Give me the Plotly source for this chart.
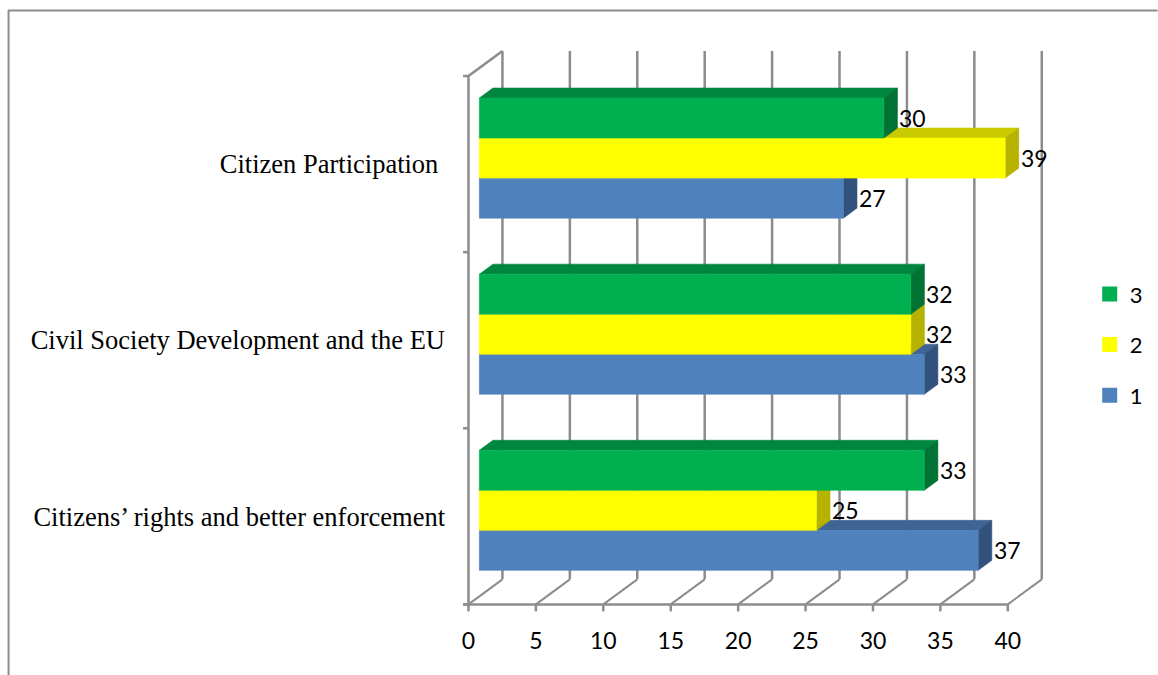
import plotly.graph_objects as go

# ---- data ----------------------------------------------------------------
categories = [
    "Citizens\u2019 rights and better enforcement",
    "Civil Society Development and the EU",
    "Citizen Participation\u00a0",
]
series_names = ["1", "2", "3"]
values_1 = [37, 33, 27]
values_2 = [25, 32, 39]
values_3 = [33, 32, 30]
x_ticks = [0, 5, 10, 15, 20, 25, 30, 35, 40]

# ---- styling -------------------------------------------------------------
series_values = [values_1, values_2, values_3]
front_colors = ["#4F81BD", "#FFFF00", "#00B050"]
top_colors = ["#3E6595", "#CACA00", "#00873F"]
side_colors = ["#30527C", "#B5B200", "#007234"]
GRID = "#8C8C8C"

W, H = 1158, 675
PX_PER_UNIT = 13.5      # horizontal pixels per value unit
PX_PER_CAT = 176        # vertical pixels per category band
ORIGIN_X = 468          # pixel of value 0 on the front plane
ORIGIN_Y = 604          # pixel of the floor front edge
X_RANGE = [-1.0, 43.5]
Y_RANGE = [-0.1, 3.25]

# oblique depth of the box (in axis units) and depth span of the bars
DX = 34 / PX_PER_UNIT
DY = 25 / PX_PER_CAT
F0, F1 = 0.32, 0.72
BAR_W = 40 / PX_PER_CAT
GROUP_SHIFT = -2 / PX_PER_CAT   # bar groups sit slightly below band centres

left = ORIGIN_X + X_RANGE[0] * PX_PER_UNIT
right = ORIGIN_X + X_RANGE[1] * PX_PER_UNIT
bottom = ORIGIN_Y - Y_RANGE[0] * PX_PER_CAT
top = ORIGIN_Y - Y_RANGE[1] * PX_PER_CAT


def px_x(p):
    return (p - left) / (right - left)


def px_y(p):
    return (bottom - p) / (bottom - top)


def proj(v, c, f):
    return v + f * DX, c + f * DY


def add_poly(xs, ys, pts):
    for p in pts + [pts[0]]:
        xs.append(p[0])
        ys.append(p[1])
    xs.append(None)
    ys.append(None)


def add_seg(xs, ys, a, b):
    xs.extend([a[0], b[0], None])
    ys.extend([a[1], b[1], None])


fig = go.Figure()

# ---- walls, floor and grid ------------------------------------------------
n_cat = len(categories)
gx, gy = [], []
for t in x_ticks:
    add_seg(gx, gy, proj(t, 0, 1), proj(t, n_cat, 1))       # back wall grid
fig.add_trace(go.Scatter(x=gx, y=gy, mode="lines", hoverinfo="skip",
                         line=dict(color=GRID, width=2.5), showlegend=False))

fx, fy = [], []
for t in x_ticks:
    add_seg(fx, fy, proj(t, 0, 0), proj(t, 0, 1))           # floor diagonals
fig.add_trace(go.Scatter(x=fx, y=fy, mode="lines", hoverinfo="skip",
                         line=dict(color=GRID, width=2), showlegend=False))

ex, ey = [], []
add_seg(ex, ey, (0, 0), (0, n_cat))                          # left front edge
add_seg(ex, ey, proj(0, n_cat, 0), proj(0, n_cat, 1))        # left top edge
add_seg(ex, ey, (-0.4, 0), (x_ticks[-1], 0))                 # floor front edge
for k in range(n_cat + 1):
    add_seg(ex, ey, (-0.4, k), (0, k))                       # category ticks
for t in x_ticks:
    add_seg(ex, ey, (t, 0), (t, -7 / PX_PER_CAT))            # value ticks
fig.add_trace(go.Scatter(x=ex, y=ey, mode="lines", hoverinfo="skip",
                         line=dict(color=GRID, width=2.5), showlegend=False))

# ---- 3-D bars -------------------------------------------------------------
annotations = []
h = BAR_W / 2
for s, vals in enumerate(series_values):
    tx, ty, sx, sy, qx, qy = [], [], [], [], [], []
    for i, v in enumerate(vals):
        cc = i + 0.5 + GROUP_SHIFT + (s - 1) * BAR_W
        add_poly(tx, ty, [proj(0, cc + h, F0), proj(v, cc + h, F0),
                          proj(v, cc + h, F1), proj(0, cc + h, F1)])
        add_poly(sx, sy, [proj(v, cc - h, F0), proj(v, cc + h, F0),
                          proj(v, cc + h, F1), proj(v, cc - h, F1)])
        add_poly(qx, qy, [proj(0, cc - h, F0), proj(v, cc - h, F0),
                          proj(v, cc + h, F0), proj(0, cc + h, F0)])
        lx, _ = proj(v, cc, F1)
        _, ly = proj(v, cc, F0)
        annotations.append(dict(x=lx, y=ly, xref="x", yref="y", text=str(v),
                                showarrow=False, xanchor="left", yanchor="middle",
                                font=dict(family="Lato", size=23, color="#000000")))
    for xs, ys, col in ((tx, ty, top_colors[s]), (sx, sy, side_colors[s]),
                        (qx, qy, front_colors[s])):
        fig.add_trace(go.Scatter(x=xs, y=ys, mode="lines", fill="toself",
                                 fillcolor=col, line=dict(color=col, width=0.6),
                                 hoverinfo="skip", showlegend=False))

# ---- legend entries (top to bottom: 3, 2, 1) ------------------------------
for s in reversed(range(len(series_names))):
    fig.add_trace(go.Scatter(x=[None], y=[None], mode="markers",
                             name=series_names[s], legendgroup=series_names[s],
                             marker=dict(symbol="square", size=15,
                                         color=front_colors[s])))

# ---- outer frame ----------------------------------------------------------
shapes = [
    dict(type="line", xref="paper", yref="paper", x0=px_x(7), x1=px_x(W),
         y0=px_y(10.5), y1=px_y(10.5), line=dict(color=GRID, width=2)),
    dict(type="line", xref="paper", yref="paper", x0=px_x(7.5), x1=px_x(7.5),
         y0=px_y(10), y1=px_y(H), line=dict(color=GRID, width=2)),
]

fig.update_layout(
    width=W, height=H,
    margin=dict(l=left, r=W - right, t=top, b=H - bottom, autoexpand=False),
    paper_bgcolor="white", plot_bgcolor="white",
    xaxis=dict(range=X_RANGE, tickvals=x_ticks, ticktext=[str(t) for t in x_ticks],
               showgrid=False, zeroline=False, showline=False, ticks="",
               ticklabelstandoff=3, fixedrange=True,
               tickfont=dict(family="Lato", size=23, color="#000000")),
    yaxis=dict(range=Y_RANGE, tickvals=[i + 0.5 for i in range(n_cat)],
               ticktext=categories, showgrid=False, zeroline=False,
               showline=False, ticks="", ticklabelstandoff=9, fixedrange=True,
               tickfont=dict(family="Liberation Serif", size=26.5, color="#000000")),
    legend=dict(x=px_x(1090), y=px_y(344.5), xanchor="left", yanchor="middle",
                tracegroupgap=19, itemwidth=30, bgcolor="rgba(0,0,0,0)",
                font=dict(family="Lato", size=22, color="#000000")),
    annotations=annotations,
    shapes=shapes,
    showlegend=True,
)

fig.write_html("out.html")
